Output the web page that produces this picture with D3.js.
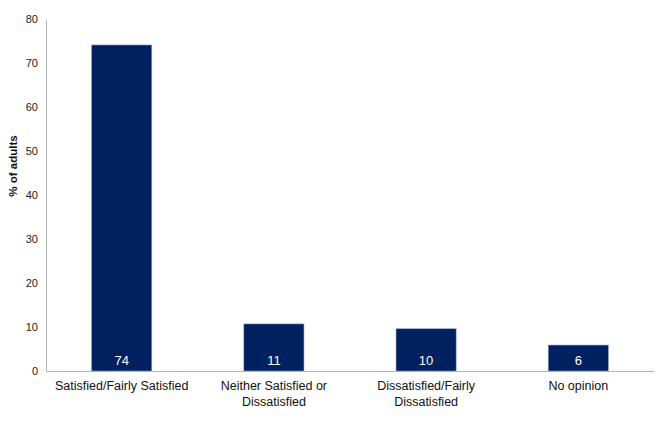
<!DOCTYPE html>
<html>
<head>
<meta charset="utf-8">
<script src="https://cdn.jsdelivr.net/npm/d3@7"></script>
<style>
  body { margin: 0; background: #fff; }
  text { font-family: "Liberation Sans", Arial, sans-serif; }
</style>
</head>
<body>
<div id="chart"></div>
<script>
var categories = [["Satisfied/Fairly Satisfied"], ["Neither Satisfied or", "Dissatisfied"], ["Dissatisfied/Fairly", "Dissatisfied"], ["No opinion"]];
var values = [74.1, 10.7, 9.6, 5.9];
var yTicks = [0, 10, 20, 30, 40, 50, 60, 70, 80];

var margin = {top: 19, right: 9, bottom: 50, left: 46},
    width = 663 - margin.left - margin.right,
    height = 421 - margin.top - margin.bottom;

var svg = d3.select("#chart")
  .append("svg")
    .attr("width", 663)
    .attr("height", 421)
  .append("g")
    .attr("transform", "translate(" + margin.left + "," + margin.top + ")");

var data = values.map(function(v, i) { return {key: i, lines: categories[i], value: v}; });

var x = d3.scaleBand()
  .range([0, 608])
  .domain(data.map(function(d) { return d.key; }))
  .paddingInner(0.605)
  .paddingOuter(0.3);

var y = d3.scaleLinear()
  .domain([0, 80])
  .range([height, 0]);

// y axis
var yAxis = svg.append("g")
  .call(d3.axisLeft(y).tickValues(yTicks).tickSize(0).tickPadding(8));
yAxis.select(".domain").attr("stroke", "#b3b3b3");
yAxis.selectAll("text")
  .attr("font-size", "11px")
  .attr("fill", "#222");

// bars
svg.selectAll("rect.bar")
  .data(data)
  .enter()
  .append("rect")
    .attr("class", "bar")
    .attr("x", function(d) { return x(d.key); })
    .attr("y", function(d) { return y(d.value); })
    .attr("width", x.bandwidth())
    .attr("height", function(d) { return height - y(d.value); })
    .attr("fill", "#002060")
    .attr("stroke", "#8ea0c4")
    .attr("stroke-width", 0.6);

// value labels
svg.selectAll("text.val")
  .data(data)
  .enter()
  .append("text")
    .attr("class", "val")
    .attr("x", function(d) { return x(d.key) + x.bandwidth() / 2; })
    .attr("y", height - 6)
    .attr("text-anchor", "middle")
    .attr("font-size", "13px")
    .attr("fill", "#fff")
    .text(function(d) { return d3.format(".0f")(d.value); });

// x axis
var xAxis = svg.append("g")
  .attr("transform", "translate(0," + height + ")")
  .call(d3.axisBottom(x).tickSize(0).tickFormat(""));
xAxis.select(".domain").attr("stroke", "#b3b3b3");

svg.selectAll("text.cat")
  .data(data)
  .enter()
  .append("text")
    .attr("class", "cat")
    .attr("text-anchor", "middle")
    .attr("font-size", "12.5px")
    .attr("fill", "#111")
    .each(function(d) {
      var t = d3.select(this);
      d.lines.forEach(function(line, i) {
        t.append("tspan")
          .attr("x", x(d.key) + x.bandwidth() / 2)
          .attr("y", height + 19 + i * 16)
          .text(line);
      });
    });

// y title
svg.append("text")
  .attr("transform", "translate(-29,147)rotate(-90)")
  .attr("text-anchor", "middle")
  .attr("font-size", "11.5px")
  .attr("font-weight", "bold")
  .attr("fill", "#111")
  .text("% of adults");
</script>
</body>
</html>
